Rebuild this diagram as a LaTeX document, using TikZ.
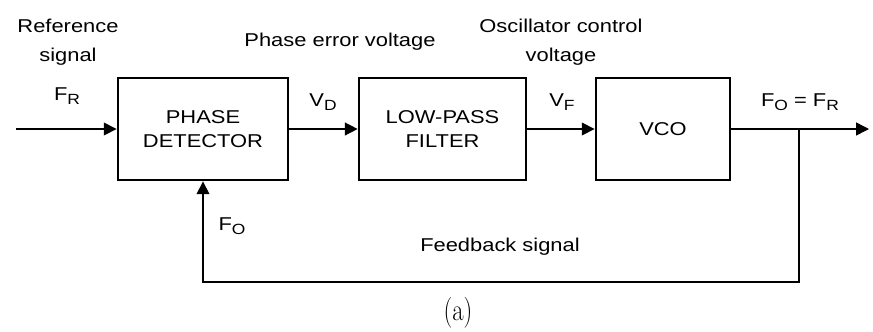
\documentclass[tikz,border=0pt]{standalone}
\usepackage{fontspec}
\setsansfont{Liberation Sans}[FakeStretch=1.18]
\usepackage{tikz}
\usetikzlibrary{arrows.meta,positioning,calc}
\newcommand{\sig}[2]{#1\raisebox{-0.45ex}{\fontsize{10.5}{12}\selectfont #2}}
\tikzset{
  block/.style={rectangle, draw, line width=2pt, minimum height=2.55cm,
                align=center, inner sep=0pt, font=\sffamily\fontsize{13.2}{16}\selectfont},
  wire/.style={line width=1pt, -{Triangle[length=0.32cm,width=0.32cm]}},
  lbl/.style={font=\sffamily\fontsize{13.2}{16}\selectfont, align=center, inner sep=0pt},
}
\begin{document}
\begin{tikzpicture}[x=0.025cm,y=-0.025cm]
  \useasboundingbox (0,0) rectangle (873,331);
  % blocks
  \node[block, minimum width=4.25cm] (pd)  at (203,129) {PHASE\\[1pt]DETECTOR};
  \node[block, minimum width=4.17cm] (lpf) at (442.5,129) {LOW-PASS\\[1pt]FILTER};
  \node[block, minimum width=3.35cm] (vco) at (663,129) {VCO};
  % signal path
  \coordinate (in)  at (16,129);
  \coordinate (out) at (869,129);
  \coordinate (jn)  at (799,129);
  \coordinate (fbr) at (799,282);
  \draw[wire] (in) -- (pd);
  \draw[wire] (pd) -- (lpf);
  \draw[wire] (lpf) -- (vco);
  \draw[wire] (vco) -- (out);
  \draw[wire] (jn) -- (fbr) -| (pd.south);
  % labels
  \node[lbl] (ref)  at (68,42) {Reference\\[5pt]signal};
  \node[lbl] (fr)   at (67,96) {\sig{F}{R}};
  \node[lbl] (pev)  at (340,42) {Phase error voltage};
  \node[lbl] (ocv)  at (561,42) {Oscillator control\\[5pt]voltage};
  \node[lbl] (vd)   at (323,102) {\sig{V}{D}};
  \node[lbl] (vf)   at (562,102) {\sig{V}{F}};
  \node[lbl] (fofr) at (800,102) {\sig{F}{O} = \sig{F}{R}};
  \node[lbl] (fo)   at (232,226) {\sig{F}{O}};
  \node[lbl] (fbs)  at (500,247) {Feedback signal};
  \node[font=\fontsize{22}{24}\selectfont, inner sep=0pt] (cap) at (458,313) {\scalebox{0.8}[1]{(a)}};
\end{tikzpicture}
\end{document}
